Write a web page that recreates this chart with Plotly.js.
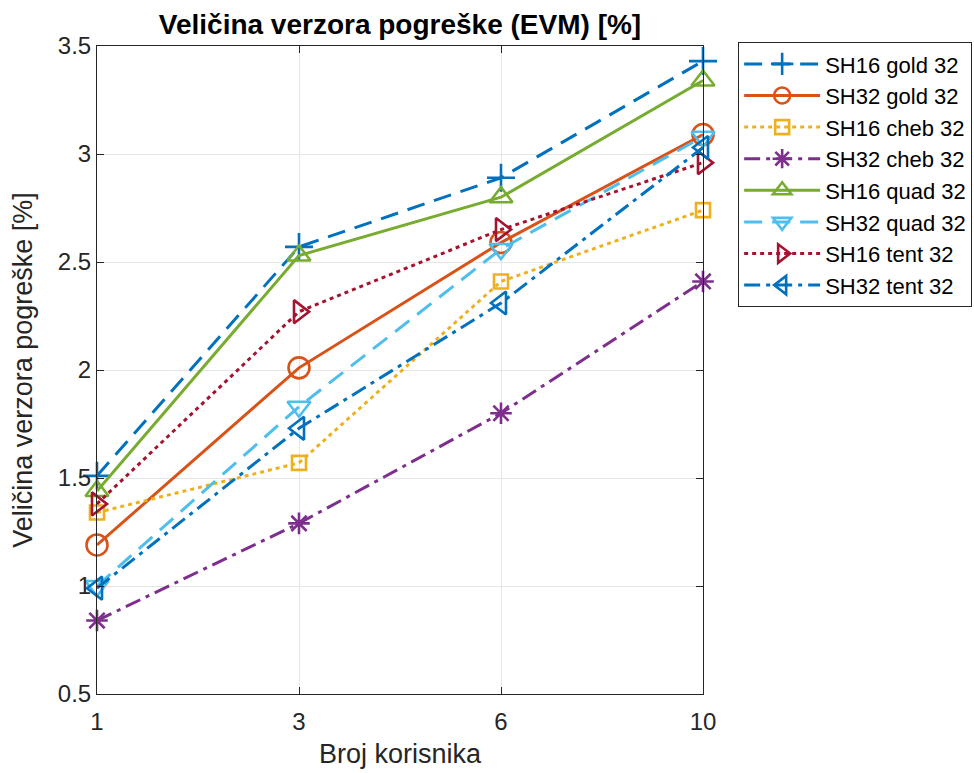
<!DOCTYPE html>
<html>
<head>
<meta charset="utf-8">
<script src="https://cdn.plot.ly/plotly-3.0.1.min.js"></script>
<style>html,body{margin:0;padding:0;background:#fff;}#chart{width:974px;height:773px;}</style>
</head>
<body>
<div id="chart"></div>
<script>
const users = ["1", "3", "6", "10"];
const names = ["SH16 gold 32", "SH32 gold 32", "SH16 cheb 32", "SH32 cheb 32",
               "SH16 quad 32", "SH32 quad 32", "SH16 tent 32", "SH32 tent 32"];
const sh16gold = [1.51, 2.57, 2.89, 3.43];
const sh32gold = [1.19, 2.01, 2.59, 3.09];
const sh16cheb = [1.34, 1.57, 2.41, 2.74];
const sh32cheb = [0.84, 1.29, 1.80, 2.41];
const sh16quad = [1.44, 2.53, 2.80, 3.34];
const sh32quad = [1.00, 1.83, 2.56, 3.08];
const sh16tent = [1.38, 2.27, 2.65, 2.96];
const sh32tent = [0.99, 1.73, 2.31, 3.03];

const series = [sh16gold, sh32gold, sh16cheb, sh32cheb, sh16quad, sh32quad, sh16tent, sh32tent];
const colors = ["#0072BD", "#D95319", "#EDB120", "#7E2F8E", "#77AC30", "#4DBEEE", "#A2142F", "#0072BD"];
const dashes = ["18px,10px", "solid", "4px,4px", "16px,6px,4px,6px", "solid", "18px,10px", "4px,4px", "16px,6px,4px,6px"];
const symbols = ["cross-thin-open", "circle-open", "square-open", "asterisk-open",
                 "triangle-up-open", "triangle-down-open", "triangle-right-open", "triangle-left-open"];
const sizes = [20, 21, 14, 18, 20, 20, 20, 20];

const traces = series.map((vals, i) => ({
  x: users,
  y: vals,
  name: names[i],
  type: "scatter",
  mode: "lines+markers",
  legendgroup: "g" + i,
  cliponaxis: false,
  line: {color: colors[i], width: 3, dash: dashes[i]},
  marker: {symbol: symbols[i], size: sizes[i], color: colors[i],
           line: {color: colors[i], width: 2.6}}
}));

const fontFam = "Liberation Sans, Arial, Helvetica, sans-serif";
const layout = {
  width: 974, height: 773,
  margin: {l: 97, r: 271, t: 46, b: 79, autoexpand: false},
  paper_bgcolor: "#ffffff",
  plot_bgcolor: "#ffffff",
  font: {family: fontFam, color: "#262626"},
  title: {text: "<b>Veličina verzora pogreške (EVM) [%]</b>", x: 0.5, xref: "paper",
          y: 0.969, yref: "container", yanchor: "middle",
          font: {family: fontFam, size: 28, color: "#000000"}},
  xaxis: {
    type: "category", range: [0, 3],
    showgrid: true, gridcolor: "#e6e6e6", gridwidth: 1,
    showline: true, linecolor: "#262626", linewidth: 1, mirror: "ticks",
    ticks: "inside", ticklen: 7, tickcolor: "#262626",
    tickfont: {size: 24, color: "#262626"},
    ticklabelstandoff: 6,
    zeroline: false,
    title: {text: "Broj korisnika", font: {size: 27, color: "#262626"}, standoff: 10}
  },
  yaxis: {
    range: [0.5, 3.5], dtick: 0.5, tick0: 0.5,
    showgrid: true, gridcolor: "#e6e6e6", gridwidth: 1,
    showline: true, linecolor: "#262626", linewidth: 1, mirror: "ticks",
    ticks: "inside", ticklen: 7, tickcolor: "#262626",
    tickfont: {size: 24, color: "#262626"},
    zeroline: false,
    title: {text: "Veličina verzora pogreške [%]", font: {size: 27, color: "#262626"}, standoff: 17}
  },
  legend: {
    x: 1.058, xanchor: "left", y: 1.006, yanchor: "top",
    bgcolor: "#ffffff", bordercolor: "#262626", borderwidth: 1,
    font: {size: 22, color: "#000000"},
    traceorder: "grouped", tracegroupgap: 0,
    itemwidth: 76
  },
  showlegend: true
};

Plotly.newPlot("chart", traces, layout, {displayModeBar: false, staticPlot: true});
</script>
</body>
</html>
